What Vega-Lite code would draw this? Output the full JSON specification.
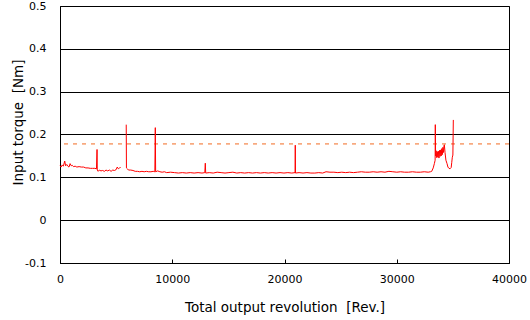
{
  "$schema": "https://vega.github.io/schema/vega-lite/v6.json",
  "width": 449,
  "height": 257,
  "autosize": {"type": "none"},
  "padding": {"left": 60, "top": 6, "right": 21, "bottom": 57},
  "background": "white",
  "config": {
    "view": {"stroke": "black", "strokeWidth": 1},
    "font": "DejaVu Sans",
    "axis": {"labelFont": "DejaVu Sans", "titleFont": "DejaVu Sans", "labelColor": "black", "titleColor": "black", "titleFontWeight": "normal", "labelFontSize": 11, "titleFontSize": 13.5}
  },
  "encoding": {
    "y": {
      "field": "v", "type": "quantitative",
      "scale": {"domain": [-0.1, 0.5], "nice": false, "zero": false},
      "axis": {
        "title": "Input torque \u00a0[Nm]",
        "values": [-0.1, 0, 0.1, 0.2, 0.3, 0.4, 0.5],
        "labelExpr": "datum.value == 0 ? '0' : (datum.value < 0 ? '-' + format(-datum.value, '.1f') : format(datum.value, '.1f'))",
        "grid": true, "gridColor": "black", "gridOpacity": 1, "gridWidth": 1,
        "ticks": false, "domain": true, "domainColor": "black",
        "labelPadding": 14, "labelOverlap": false, "labelBaseline": "middle",
        "titleX": -42, "titleY": 116, "titleAlign": "center", "titleBaseline": "middle", "titleAngle": -90
      }
    }
  },
  "layer": [
    {
      "data": {"values": [{"v": 0.178}]},
      "mark": {"type": "rule", "color": "#f26b21", "strokeDash": [4, 5], "strokeWidth": 1}
    },
    {
      "data": {"values": [
        {"x": 0, "v": 0.127}, {"x": 100, "v": 0.124}, {"x": 200, "v": 0.129}, {"x": 300, "v": 0.126},
        {"x": 420, "v": 0.138}, {"x": 500, "v": 0.127}, {"x": 600, "v": 0.130}, {"x": 700, "v": 0.126},
        {"x": 800, "v": 0.124}, {"x": 900, "v": 0.132}, {"x": 1000, "v": 0.127}, {"x": 1100, "v": 0.128},
        {"x": 1200, "v": 0.125}, {"x": 1350, "v": 0.126}, {"x": 1500, "v": 0.124}, {"x": 1700, "v": 0.125},
        {"x": 1900, "v": 0.124}, {"x": 2100, "v": 0.124}, {"x": 2300, "v": 0.122}, {"x": 2500, "v": 0.122},
        {"x": 2700, "v": 0.121}, {"x": 2900, "v": 0.121}, {"x": 3100, "v": 0.121}, {"x": 3250, "v": 0.120},
        {"x": 3300, "v": 0.165}, {"x": 3320, "v": 0.117}, {"x": 3400, "v": 0.114}, {"x": 3500, "v": 0.117},
        {"x": 3650, "v": 0.115}, {"x": 3800, "v": 0.116}, {"x": 3950, "v": 0.114}, {"x": 4100, "v": 0.117},
        {"x": 4250, "v": 0.115}, {"x": 4400, "v": 0.117}, {"x": 4550, "v": 0.114}, {"x": 4700, "v": 0.117},
        {"x": 4850, "v": 0.116}, {"x": 5000, "v": 0.118}, {"x": 5100, "v": 0.124}, {"x": 5200, "v": 0.120},
        {"x": 5300, "v": 0.122}, {"x": 5400, "v": 0.123},
        {"x": 5600, "v": null},
        {"x": 5900, "v": 0.223}, {"x": 5920, "v": 0.122}, {"x": 6000, "v": 0.120}, {"x": 6100, "v": 0.117},
        {"x": 6300, "v": 0.117}, {"x": 6500, "v": 0.116}, {"x": 6700, "v": 0.114}, {"x": 6900, "v": 0.114},
        {"x": 7100, "v": 0.113}, {"x": 7300, "v": 0.114}, {"x": 7500, "v": 0.113}, {"x": 7700, "v": 0.114},
        {"x": 7900, "v": 0.113}, {"x": 8100, "v": 0.113}, {"x": 8300, "v": 0.114}, {"x": 8450, "v": 0.113},
        {"x": 8490, "v": 0.216}, {"x": 8520, "v": 0.113}, {"x": 8700, "v": 0.115}, {"x": 8900, "v": 0.113},
        {"x": 9100, "v": 0.112}, {"x": 9300, "v": 0.113}, {"x": 9500, "v": 0.111}, {"x": 9850, "v": 0.112},
        {"x": 10200, "v": 0.111}, {"x": 10550, "v": 0.110}, {"x": 10900, "v": 0.111}, {"x": 11250, "v": 0.110},
        {"x": 11600, "v": 0.111}, {"x": 11950, "v": 0.110}, {"x": 12300, "v": 0.111}, {"x": 12650, "v": 0.110},
        {"x": 12900, "v": 0.111}, {"x": 12945, "v": 0.133}, {"x": 12980, "v": 0.110}, {"x": 13300, "v": 0.111},
        {"x": 13650, "v": 0.110}, {"x": 14000, "v": 0.112}, {"x": 14350, "v": 0.111}, {"x": 14700, "v": 0.110},
        {"x": 15050, "v": 0.111}, {"x": 15400, "v": 0.112}, {"x": 15750, "v": 0.110}, {"x": 16100, "v": 0.111},
        {"x": 16450, "v": 0.110}, {"x": 16800, "v": 0.111}, {"x": 17150, "v": 0.110}, {"x": 17500, "v": 0.111},
        {"x": 17850, "v": 0.110}, {"x": 18200, "v": 0.111}, {"x": 18550, "v": 0.110}, {"x": 18900, "v": 0.111},
        {"x": 19250, "v": 0.110}, {"x": 19600, "v": 0.111}, {"x": 19950, "v": 0.110}, {"x": 20300, "v": 0.111},
        {"x": 20650, "v": 0.110}, {"x": 20940, "v": 0.111}, {"x": 20960, "v": 0.175}, {"x": 20980, "v": 0.110},
        {"x": 21300, "v": 0.111}, {"x": 21650, "v": 0.110}, {"x": 22000, "v": 0.111}, {"x": 22350, "v": 0.110},
        {"x": 22700, "v": 0.110}, {"x": 23050, "v": 0.111}, {"x": 23400, "v": 0.110}, {"x": 23700, "v": 0.113},
        {"x": 24050, "v": 0.112}, {"x": 24400, "v": 0.112}, {"x": 24750, "v": 0.111}, {"x": 25100, "v": 0.112},
        {"x": 25450, "v": 0.111}, {"x": 25800, "v": 0.112}, {"x": 26150, "v": 0.111}, {"x": 26500, "v": 0.112},
        {"x": 26850, "v": 0.113}, {"x": 27200, "v": 0.112}, {"x": 27550, "v": 0.112}, {"x": 27900, "v": 0.113},
        {"x": 28250, "v": 0.112}, {"x": 28600, "v": 0.113}, {"x": 28950, "v": 0.112}, {"x": 29300, "v": 0.114},
        {"x": 29650, "v": 0.113}, {"x": 30000, "v": 0.112}, {"x": 30350, "v": 0.113}, {"x": 30700, "v": 0.112},
        {"x": 31050, "v": 0.112}, {"x": 31400, "v": 0.113}, {"x": 31750, "v": 0.112}, {"x": 32100, "v": 0.112},
        {"x": 32450, "v": 0.113}, {"x": 32800, "v": 0.112}, {"x": 33000, "v": 0.113}, {"x": 33115, "v": 0.114},
        {"x": 33250, "v": 0.122}, {"x": 33350, "v": 0.132}, {"x": 33420, "v": 0.140}, {"x": 33435, "v": 0.223},
        {"x": 33460, "v": 0.150}, {"x": 33510, "v": 0.162}, {"x": 33560, "v": 0.146}, {"x": 33610, "v": 0.160},
        {"x": 33660, "v": 0.147}, {"x": 33710, "v": 0.161}, {"x": 33760, "v": 0.145}, {"x": 33810, "v": 0.163},
        {"x": 33860, "v": 0.149}, {"x": 33910, "v": 0.164}, {"x": 33960, "v": 0.150}, {"x": 34010, "v": 0.167},
        {"x": 34060, "v": 0.153}, {"x": 34110, "v": 0.170}, {"x": 34160, "v": 0.158}, {"x": 34210, "v": 0.174},
        {"x": 34240, "v": 0.176}, {"x": 34300, "v": 0.158}, {"x": 34380, "v": 0.140}, {"x": 34480, "v": 0.132},
        {"x": 34560, "v": 0.124}, {"x": 34650, "v": 0.121}, {"x": 34750, "v": 0.120}, {"x": 34850, "v": 0.123},
        {"x": 34900, "v": 0.135}, {"x": 34950, "v": 0.147}, {"x": 35000, "v": 0.152}, {"x": 35040, "v": 0.234}
      ]},
      "mark": {"type": "line", "color": "#ff0000", "strokeWidth": 1, "invalid": "break-paths-show-domains"},
      "encoding": {
        "x": {
          "field": "x", "type": "quantitative",
          "scale": {"domain": [0, 40000], "nice": false},
          "axis": {
            "title": "Total output revolution \u00a0[Rev.]",
            "values": [0, 10000, 20000, 30000, 40000],
            "format": "d",
            "grid": false, "ticks": true, "tickSize": -4, "tickColor": "black", "tickWidth": 1,
            "domain": true, "domainColor": "black",
            "labelPadding": 14, "labelOverlap": false, "labelFlush": false,
            "titleY": 44, "titleBaseline": "middle"
          }
        }
      }
    }
  ]
}
